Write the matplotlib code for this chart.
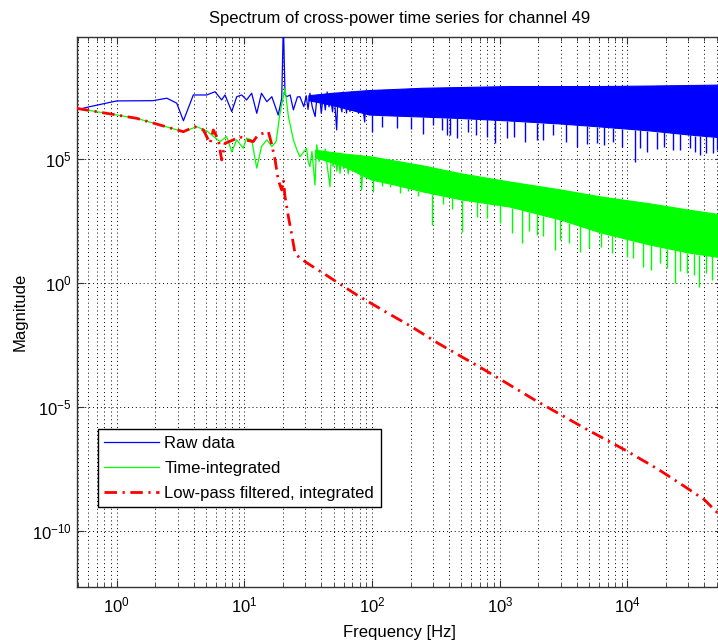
import numpy as np
import matplotlib.pyplot as plt
from matplotlib.ticker import LogLocator, NullFormatter, FixedLocator

plt.rcParams['font.family'] = ['Liberation Sans', 'DejaVu Sans']
plt.rcParams['mathtext.fontset'] = 'custom'
plt.rcParams['mathtext.rm'] = 'Liberation Sans'
plt.rcParams['axes.unicode_minus'] = False

# --- data (frequency in Hz, magnitude as log10) ---
# raw data: low-frequency part drawn as a line
raw_f = [0.486, 0.618, 1.0, 1.92, 2.47, 2.95, 3.33, 3.98, 5.07, 5.89, 6.64, 7.05,
         7.96, 8.71, 9.53, 10.4, 11.4, 12.5, 13.6, 15.0, 16.4, 18.4, 19.6, 20.2,
         20.8, 21.4, 22.8, 24.2, 26.0, 27.2, 29.2, 30.5, 31.5, 32.6, 34.0, 35.8,
         37.0, 39.1, 40.0, 41.5, 43.0, 44.5, 46.0, 47.0, 49.0, 50.5, 52.8, 54.0,
         56.0, 58.0, 59.5, 61.2, 63.0, 65.0, 67.1, 69.0, 71.0, 73.6, 76.0, 78.2,
         80.5, 83.0, 85.0, 87.5, 90.0, 92.5, 95.8]
raw_lg = [6.98, 7.11, 7.34, 7.35, 7.45, 7.25, 6.54, 7.58, 7.58, 7.71, 7.38, 7.58,
          6.91, 7.51, 7.58, 7.38, 7.65, 6.84, 7.65, 7.31, 7.51, 6.77, 7.45, 10.5,
          7.60, 7.51, 7.58, 6.98, 7.50, 7.51, 7.11, 7.55, 7.00, 7.65, 7.10, 6.71,
          7.50, 7.38, 6.84, 7.60, 6.98, 7.70, 7.10, 7.58, 6.90, 7.60, 6.17, 7.50,
          7.25, 6.90, 7.70, 7.58, 6.85, 7.60, 6.91, 7.70, 7.00, 7.65, 7.20, 6.84,
          7.72, 7.70, 7.00, 6.49, 7.70, 6.90, 7.74]
# raw data: dense noise band
raw_band_f = [32.0, 50.0, 95.8, 150, 251, 500, 1201, 3000, 6150, 15000, 30000, 55000]
raw_top = [7.55, 7.65, 7.76, 7.80, 7.85, 7.88, 7.92, 7.92, 7.92, 7.94, 7.96, 7.98]
raw_bot = [7.35, 7.15, 6.77, 6.73, 6.69, 6.63, 6.53, 6.41, 6.29, 6.13, 5.97, 5.85]
raw_spike_f = [99.3, 120, 157, 200, 250, 300, 350, 386, 406, 462, 560, 650, 790,
               917, 1132, 1300, 1574, 1944, 2200, 2610, 3300, 4000, 4800, 5740,
               6600, 7700, 9000, 11460, 12500, 14130, 17000, 19500, 22700, 26000,
               30800, 34000, 36900, 41000, 46700, 50000]
raw_spike_lg = [6.10, 6.30, 6.25, 6.20, 6.00, 6.37, 6.15, 5.97, 5.97, 5.85, 6.10, 5.95, 5.90,
                5.65, 5.83, 5.90, 5.70, 5.77, 5.75, 5.97, 5.70, 5.50, 5.60, 5.63,
                5.55, 5.70, 5.50, 4.89, 5.45, 5.29, 5.40, 5.50, 5.36, 5.35,
                5.43, 5.30, 5.16, 5.25, 5.23, 5.35]

# time-integrated
int_f = [0.486, 1.43, 3.32, 4.23, 5.07, 6.44, 7.27, 7.96, 8.71, 9.80, 10.4, 11.4,
         12.5, 13.6, 15.0, 16.4, 17.7, 19.0, 20.8, 22.1, 24.2, 25.8, 27.2, 30.7,
         31.6, 32.6, 33.8, 35.7, 36.8, 38.5, 40.0, 41.5, 43.0, 44.8, 46.8, 48.0,
         49.5, 51.2, 53.0, 54.5, 56.1, 58.0, 60.0, 61.5, 63.2, 65.0, 67.0, 69.0,
         71.3, 73.5, 75.5, 78.0, 80.5, 82.9, 85.0, 87.5, 90.7, 93.0, 96.0, 99.3]
int_lg = [7.04, 6.64, 6.10, 6.30, 6.13, 5.70, 5.90, 5.29, 5.77, 5.43, 5.84, 5.77,
          4.63, 5.50, 5.77, 5.50, 5.70, 6.84, 7.85, 6.71, 5.77, 5.36, 5.09, 5.43,
          4.90, 4.69, 5.30, 3.95, 5.57, 4.90, 5.30, 4.96, 5.40, 4.60, 3.88, 5.20,
          4.70, 5.09, 4.50, 5.20, 4.42, 5.10, 4.60, 5.15, 4.96, 4.40, 5.10, 4.70,
          5.09, 4.50, 5.05, 4.60, 5.00, 3.75, 4.90, 4.50, 4.96, 4.30, 4.95, 4.56]
int_band_f = [36.0, 60.0, 99.3, 150, 251, 500, 1201, 3000, 6150, 15000, 30000, 55000]
int_top = [5.35, 5.20, 5.08, 4.92, 4.72, 4.40, 4.07, 3.75, 3.47, 3.19, 2.94, 2.74]
int_bot = [5.05, 4.70, 4.15, 3.95, 3.67, 3.35, 3.06, 2.54, 2.02, 1.53, 1.21, 1.01]
int_spike_f = [101, 120, 138, 166, 190, 230, 292, 360, 420, 502, 660, 800, 1000,
               1240, 1490, 1700, 1944, 2200, 2700, 2950, 3500, 4260, 5000, 6150,
               7500, 9860, 11000, 13200, 15340, 18000, 20500, 23500, 26000, 29000,
               33000, 36600, 41000, 46000, 52000]
int_spike_lg = [3.68, 3.90, 3.88, 3.62, 3.70, 3.50, 2.34, 3.20, 3.00, 2.07, 2.67, 2.60, 2.40,
                2.00, 1.60, 2.10, 1.94, 1.90, 1.33, 1.73, 1.60, 1.26, 1.40, 1.46,
                1.20, 1.06, 1.00, 0.66, 0.52, 0.80, 0.60, -0.01, 0.50, 0.39,
                0.30, -0.15, 0.40, 0.12, 0.50]

# low-pass filtered, integrated
lp_f = [0.486, 1.43, 3.32, 4.10, 4.77, 5.38, 5.71, 6.25, 6.64, 7.05, 8.19, 9.24,
        10.1, 11.7, 12.8, 14.1, 15.4, 16.4, 17.4, 18.4, 19.6, 20.2, 20.8, 22.1,
        23.4, 24.9, 27.2, 32.6, 41.5, 75.7, 133, 203, 328, 500, 762, 1027, 1877,
        2856, 4624, 9510, 17340, 28050, 40200, 51100, 55000]
lp_lg = [7.04, 6.64, 6.10, 6.30, 6.17, 5.63, 6.17, 5.77, 4.96, 5.63, 5.77, 5.90,
         5.77, 5.70, 5.97, 6.04, 6.10, 5.57, 4.96, 4.15, 3.75, 4.15, 3.48, 2.67,
         2.00, 1.20, 1.00, 0.73, 0.39, -0.48, -1.22, -1.76, -2.43, -2.97, -3.51, -3.91, -4.72,
         -5.25, -5.86, -6.73, -7.51, -8.21, -8.75, -9.29, -9.60]

labels = ['Raw data', 'Time-integrated', 'Low-pass filtered, integrated']
BLUE, GREEN, RED = '#0000ff', '#00ff00', '#ff0000'


def mag(v):
    return 10.0 ** np.asarray(v)


def band_edge(f, band_f, edge):
    # bottom edge of the noise band at the spike positions (log-log)
    return 10 ** np.interp(np.log10(f), np.log10(band_f), edge)


def band(ax, f, bot, top, color):
    # closed polygon: along the top edge, back along the bottom edge
    xs = list(f) + list(f)[::-1]
    ys = list(mag(top)) + list(mag(bot))[::-1]
    ax.fill(xs, ys, facecolor=color, edgecolor=color, lw=0.8, zorder=2)


fig = plt.figure(figsize=(7.18, 6.43), dpi=100)
W, H = 718.0, 643.0
ax = fig.add_axes([76.7 / W, 1 - 586.7 / H, (722 - 76.7) / W, (586.7 - 36.7) / H])
ax.set_axisbelow(True)

# raw data
band(ax, raw_band_f, raw_bot, raw_top, BLUE)
ax.plot(raw_f, mag(raw_lg), color=BLUE, lw=0.9, label=labels[0], zorder=3)
ax.vlines(raw_spike_f, mag(raw_spike_lg), band_edge(raw_spike_f, raw_band_f, raw_bot),
          color=BLUE, lw=1.0, zorder=3)

# time-integrated
band(ax, int_band_f, int_bot, int_top, GREEN)
ax.plot(int_f, mag(int_lg), color=GREEN, lw=0.9, label=labels[1], zorder=3)
ax.vlines(int_spike_f, mag(int_spike_lg), band_edge(int_spike_f, int_band_f, int_bot),
          color=GREEN, lw=1.0, zorder=3)

# low-pass filtered
ax.plot(lp_f, mag(lp_lg), color=RED, lw=2.0, dashes=(4.5, 2, 0.8, 2), label=labels[2],
        zorder=4)

ax.set_xscale('log')
ax.set_yscale('log')
ax.set_xlim(0.486, 5.5e4)
ax.set_ylim(10 ** -12.25, 10 ** 9.93)

ax.xaxis.set_major_locator(LogLocator(base=10, numticks=20))
ax.xaxis.set_minor_locator(LogLocator(base=10, subs=np.arange(2, 10), numticks=50))
ax.xaxis.set_minor_formatter(NullFormatter())
ax.yaxis.set_major_locator(FixedLocator([1e-10, 1e-5, 1e0, 1e5]))
ax.yaxis.set_minor_locator(FixedLocator([]))

ax.grid(True, which='major', color='k', linestyle=(0, (1, 3)), lw=0.7)
ax.grid(True, which='minor', axis='x', color='k', linestyle=(0, (1, 3)), lw=0.7)
ax.tick_params(which='both', direction='in', top=True, right=True, labelsize=12,
               color='#333333')
ax.tick_params(which='major', length=5)
ax.tick_params(which='minor', length=3)
ax.tick_params(axis='x', pad=6)
for s in ax.spines.values():
    s.set_color('#333333')
    s.set_linewidth(1.0)

ax.set_title('Spectrum of cross-power time series for channel 49', fontsize=12, pad=10)
ax.set_xlabel('Frequency [Hz]', fontsize=12, labelpad=7)
ax.set_ylabel('Magnitude', fontsize=12, labelpad=3)

leg = ax.legend(loc='lower left', bbox_to_anchor=(97.7 / W, 1 - 507.3 / H),
                bbox_transform=fig.transFigure, fancybox=False, framealpha=1,
                edgecolor='k', fontsize=12, handlelength=3.3, borderpad=0.4,
                labelspacing=0.6, handletextpad=0.3, borderaxespad=0)
leg.get_frame().set_linewidth(1.0)
leg.set_zorder(5)

fig.savefig('out.png', dpi=100)
